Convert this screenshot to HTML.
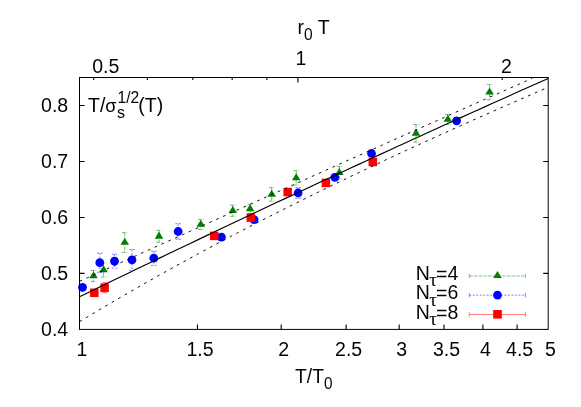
<!DOCTYPE html><html><head><meta charset="utf-8"><title>plot</title><style>html,body{margin:0;padding:0;background:#fff;width:581px;height:407px;overflow:hidden}svg{display:block}text{font-family:"Liberation Sans",sans-serif;fill:#000}.tx{opacity:0.99}</style></head><body>
<svg width="581" height="407" viewBox="0 0 581 407">
<rect width="581" height="407" fill="#fff"/>
<g stroke="#3a9c3a" stroke-width="0.7" fill="none" stroke-dasharray="3.5 1.2"><path d="M93.50,270.50 V281.50 M90.80,270.50 h5.4 M90.80,281.50 h5.4"/></g>
<g stroke="#3a9c3a" stroke-width="0.7" fill="none" stroke-dasharray="3.5 1.2"><path d="M103.60,263.00 V277.00 M100.90,263.00 h5.4 M100.90,277.00 h5.4"/></g>
<g stroke="#3a9c3a" stroke-width="0.7" fill="none" stroke-dasharray="3.5 1.2"><path d="M124.75,232.65 V252.35 M122.05,232.65 h5.4 M122.05,252.35 h5.4"/></g>
<g stroke="#3a9c3a" stroke-width="0.7" fill="none" stroke-dasharray="3.5 1.2"><path d="M159.00,230.30 V242.30 M156.30,230.30 h5.4 M156.30,242.30 h5.4"/></g>
<g stroke="#3a9c3a" stroke-width="0.7" fill="none" stroke-dasharray="3.5 1.2"><path d="M200.80,219.50 V229.50 M198.10,219.50 h5.4 M198.10,229.50 h5.4"/></g>
<g stroke="#3a9c3a" stroke-width="0.7" fill="none" stroke-dasharray="3.5 1.2"><path d="M232.80,205.10 V216.30 M230.10,205.10 h5.4 M230.10,216.30 h5.4"/></g>
<g stroke="#3a9c3a" stroke-width="0.7" fill="none" stroke-dasharray="3.5 1.2"><path d="M250.10,204.30 V213.30 M247.40,204.30 h5.4 M247.40,213.30 h5.4"/></g>
<g stroke="#3a9c3a" stroke-width="0.7" fill="none" stroke-dasharray="3.5 1.2"><path d="M271.70,187.60 V201.20 M269.00,187.60 h5.4 M269.00,201.20 h5.4"/></g>
<g stroke="#3a9c3a" stroke-width="0.7" fill="none" stroke-dasharray="3.5 1.2"><path d="M296.20,170.70 V185.10 M293.50,170.70 h5.4 M293.50,185.10 h5.4"/></g>
<g stroke="#3a9c3a" stroke-width="0.7" fill="none" stroke-dasharray="3.5 1.2"><path d="M339.30,166.40 V179.00 M336.60,166.40 h5.4 M336.60,179.00 h5.4"/></g>
<g stroke="#3a9c3a" stroke-width="0.7" fill="none" stroke-dasharray="3.5 1.2"><path d="M416.00,124.50 V142.10 M413.30,124.50 h5.4 M413.30,142.10 h5.4"/></g>
<g stroke="#3a9c3a" stroke-width="0.7" fill="none" stroke-dasharray="3.5 1.2"><path d="M447.80,114.50 V124.50 M445.10,114.50 h5.4 M445.10,124.50 h5.4"/></g>
<g stroke="#3a9c3a" stroke-width="0.7" fill="none" stroke-dasharray="3.5 1.2"><path d="M489.60,84.40 V99.80 M486.90,84.40 h5.4 M486.90,99.80 h5.4"/></g>
<path d="M93.50,271.30 L89.20,278.35 L97.80,278.35 Z" fill="#008000"/>
<path d="M103.60,265.30 L99.30,272.35 L107.90,272.35 Z" fill="#008000"/>
<path d="M124.75,237.80 L120.45,244.85 L129.05,244.85 Z" fill="#008000"/>
<path d="M159.00,231.60 L154.70,238.65 L163.30,238.65 Z" fill="#008000"/>
<path d="M200.80,219.80 L196.50,226.85 L205.10,226.85 Z" fill="#008000"/>
<path d="M232.80,206.00 L228.50,213.05 L237.10,213.05 Z" fill="#008000"/>
<path d="M250.10,204.10 L245.80,211.15 L254.40,211.15 Z" fill="#008000"/>
<path d="M271.70,189.70 L267.40,196.75 L276.00,196.75 Z" fill="#008000"/>
<path d="M296.20,173.20 L291.90,180.25 L300.50,180.25 Z" fill="#008000"/>
<path d="M339.30,168.00 L335.00,175.05 L343.60,175.05 Z" fill="#008000"/>
<path d="M416.00,128.60 L411.70,135.65 L420.30,135.65 Z" fill="#008000"/>
<path d="M447.80,114.80 L443.50,121.85 L452.10,121.85 Z" fill="#008000"/>
<path d="M489.60,87.40 L485.30,94.45 L493.90,94.45 Z" fill="#008000"/>

<g stroke="#3c3cff" stroke-width="0.7" fill="none" stroke-dasharray="2 1.5"><path d="M99.80,253.10 V272.30 M97.10,253.10 h5.4 M97.10,272.30 h5.4"/></g>
<g stroke="#3c3cff" stroke-width="0.7" fill="none" stroke-dasharray="2 1.5"><path d="M114.50,254.20 V268.20 M111.80,254.20 h5.4 M111.80,268.20 h5.4"/></g>
<g stroke="#3c3cff" stroke-width="0.7" fill="none" stroke-dasharray="2 1.5"><path d="M132.00,249.50 V270.30 M129.30,249.50 h5.4 M129.30,270.30 h5.4"/></g>
<g stroke="#3c3cff" stroke-width="0.7" fill="none" stroke-dasharray="2 1.5"><path d="M153.80,251.10 V265.30 M151.10,251.10 h5.4 M151.10,265.30 h5.4"/></g>
<g stroke="#3c3cff" stroke-width="0.7" fill="none" stroke-dasharray="2 1.5"><path d="M178.20,223.70 V239.30 M175.50,223.70 h5.4 M175.50,239.30 h5.4"/></g>
<g stroke="#3c3cff" stroke-width="0.7" fill="none" stroke-dasharray="2 1.5"><path d="M221.40,234.10 V240.10 M218.70,234.10 h5.4 M218.70,240.10 h5.4"/></g>
<g stroke="#3c3cff" stroke-width="0.7" fill="none" stroke-dasharray="2 1.5"><path d="M254.00,216.60 V222.60 M251.30,216.60 h5.4 M251.30,222.60 h5.4"/></g>
<g stroke="#3c3cff" stroke-width="0.7" fill="none" stroke-dasharray="2 1.5"><path d="M298.10,187.70 V198.30 M295.40,187.70 h5.4 M295.40,198.30 h5.4"/></g>
<g stroke="#3c3cff" stroke-width="0.7" fill="none" stroke-dasharray="2 1.5"><path d="M334.80,174.30 V180.30 M332.10,174.30 h5.4 M332.10,180.30 h5.4"/></g>
<g stroke="#3c3cff" stroke-width="0.7" fill="none" stroke-dasharray="2 1.5"><path d="M371.55,150.50 V156.50 M368.85,150.50 h5.4 M368.85,156.50 h5.4"/></g>
<g stroke="#3c3cff" stroke-width="0.7" fill="none" stroke-dasharray="2 1.5"><path d="M456.60,117.80 V123.80 M453.90,117.80 h5.4 M453.90,123.80 h5.4"/></g>
<circle cx="82.50" cy="287.40" r="4.4" fill="#0000ff"/>
<circle cx="99.80" cy="262.70" r="4.4" fill="#0000ff"/>
<circle cx="114.50" cy="261.20" r="4.4" fill="#0000ff"/>
<circle cx="132.00" cy="259.90" r="4.4" fill="#0000ff"/>
<circle cx="153.80" cy="258.20" r="4.4" fill="#0000ff"/>
<circle cx="178.20" cy="231.50" r="4.4" fill="#0000ff"/>
<circle cx="221.40" cy="237.10" r="4.4" fill="#0000ff"/>
<circle cx="254.00" cy="219.60" r="4.4" fill="#0000ff"/>
<circle cx="298.10" cy="193.00" r="4.4" fill="#0000ff"/>
<circle cx="334.80" cy="177.30" r="4.4" fill="#0000ff"/>
<circle cx="371.55" cy="153.50" r="4.4" fill="#0000ff"/>
<circle cx="456.60" cy="120.80" r="4.4" fill="#0000ff"/>
<g stroke="#ff3030" stroke-width="0.7" fill="none" stroke-dasharray=""><path d="M94.30,289.80 V295.80 M91.60,289.80 h5.4 M91.60,295.80 h5.4"/></g>
<g stroke="#ff3030" stroke-width="0.7" fill="none" stroke-dasharray=""><path d="M104.60,282.70 V292.70 M101.90,282.70 h5.4 M101.90,292.70 h5.4"/></g>
<g stroke="#ff3030" stroke-width="0.7" fill="none" stroke-dasharray=""><path d="M214.20,232.90 V238.90 M211.50,232.90 h5.4 M211.50,238.90 h5.4"/></g>
<g stroke="#ff3030" stroke-width="0.7" fill="none" stroke-dasharray=""><path d="M250.80,214.60 V220.60 M248.10,214.60 h5.4 M248.10,220.60 h5.4"/></g>
<g stroke="#ff3030" stroke-width="0.7" fill="none" stroke-dasharray=""><path d="M287.70,189.10 V195.10 M285.00,189.10 h5.4 M285.00,195.10 h5.4"/></g>
<g stroke="#ff3030" stroke-width="0.7" fill="none" stroke-dasharray=""><path d="M325.90,179.90 V185.90 M323.20,179.90 h5.4 M323.20,185.90 h5.4"/></g>
<g stroke="#ff3030" stroke-width="0.7" fill="none" stroke-dasharray=""><path d="M372.80,159.00 V165.00 M370.10,159.00 h5.4 M370.10,165.00 h5.4"/></g>
<rect x="90.05" y="288.55" width="8.5" height="8.5" fill="#ff0000"/>
<rect x="100.35" y="283.45" width="8.5" height="8.5" fill="#ff0000"/>
<rect x="209.95" y="231.65" width="8.5" height="8.5" fill="#ff0000"/>
<rect x="246.55" y="213.35" width="8.5" height="8.5" fill="#ff0000"/>
<rect x="283.45" y="187.85" width="8.5" height="8.5" fill="#ff0000"/>
<rect x="321.65" y="178.65" width="8.5" height="8.5" fill="#ff0000"/>
<rect x="368.55" y="157.75" width="8.5" height="8.5" fill="#ff0000"/>
<path d="M79.50,281.32 L87.44,277.72 L95.39,274.12 L103.33,270.51 L111.28,266.91 L119.22,263.32 L127.16,259.72 L135.11,256.12 L143.05,252.53 L151.00,248.94 L158.94,245.35 L166.88,241.76 L174.83,238.17 L182.77,234.58 L190.72,231.00 L198.66,227.42 L206.61,223.83 L214.55,220.25 L222.49,216.68 L230.44,213.10 L238.38,209.52 L246.33,205.95 L254.27,202.38 L262.21,198.80 L270.16,195.23 L278.10,191.67 L286.05,188.10 L293.99,184.53 L301.93,180.97 L309.88,177.41 L317.82,173.85 L325.77,170.29 L333.71,166.73 L341.65,163.17 L349.60,159.62 L357.54,156.07 L365.49,152.52 L373.43,148.97 L381.37,145.42 L389.32,141.87 L397.26,138.32 L405.21,134.78 L413.15,131.24 L421.09,127.70 L429.04,124.16 L436.98,120.62 L444.93,117.08 L452.87,113.55 L460.82,110.01 L468.76,106.48 L476.70,102.95 L484.65,99.42 L492.59,95.89 L500.54,92.37 L508.48,88.84 L516.42,85.32 L524.37,81.80 L532.31,78.28" fill="none" stroke="#000" stroke-width="0.95" stroke-dasharray="2.7 4.8"/>
<path d="M79.50,321.70 L87.44,316.91 L95.39,312.15 L103.33,307.43 L111.28,302.75 L119.22,298.10 L127.16,293.49 L135.11,288.91 L143.05,284.37 L151.00,279.87 L158.94,275.40 L166.88,270.96 L174.83,266.56 L182.77,262.19 L190.72,257.85 L198.66,253.54 L206.61,249.26 L214.55,245.02 L222.49,240.80 L230.44,236.61 L238.38,232.45 L246.33,228.32 L254.27,224.22 L262.21,220.15 L270.16,216.10 L278.10,212.08 L286.05,208.08 L293.99,204.11 L301.93,200.16 L309.88,196.24 L317.82,192.34 L325.77,188.47 L333.71,184.62 L341.65,180.79 L349.60,176.98 L357.54,173.19 L365.49,169.42 L373.43,165.67 L381.37,161.95 L389.32,158.24 L397.26,154.55 L405.21,150.88 L413.15,147.22 L421.09,143.58 L429.04,139.96 L436.98,136.35 L444.93,132.76 L452.87,129.19 L460.82,125.63 L468.76,122.08 L476.70,118.54 L484.65,115.02 L492.59,111.51 L500.54,108.01 L508.48,104.52 L516.42,101.05 L524.37,97.58 L532.31,94.12 L540.26,90.68 L548.20,87.24" fill="none" stroke="#000" stroke-width="0.95" stroke-dasharray="2.7 4.8"/>
<path d="M79.50,296.76 L87.44,292.90 L95.39,289.04 L103.33,285.19 L111.28,281.34 L119.22,277.50 L127.16,273.66 L135.11,269.83 L143.05,266.00 L151.00,262.19 L158.94,258.37 L166.88,254.56 L174.83,250.76 L182.77,246.96 L190.72,243.17 L198.66,239.39 L206.61,235.61 L214.55,231.83 L222.49,228.06 L230.44,224.30 L238.38,220.54 L246.33,216.79 L254.27,213.05 L262.21,209.31 L270.16,205.57 L278.10,201.84 L286.05,198.12 L293.99,194.40 L301.93,190.69 L309.88,186.98 L317.82,183.28 L325.77,179.59 L333.71,175.90 L341.65,172.21 L349.60,168.53 L357.54,164.86 L365.49,161.20 L373.43,157.53 L381.37,153.88 L389.32,150.23 L397.26,146.58 L405.21,142.95 L413.15,139.31 L421.09,135.69 L429.04,132.06 L436.98,128.45 L444.93,124.84 L452.87,121.23 L460.82,117.63 L468.76,114.04 L476.70,110.45 L484.65,106.87 L492.59,103.29 L500.54,99.72 L508.48,96.16 L516.42,92.60 L524.37,89.04 L532.31,85.50 L540.26,81.95 L548.20,78.42" fill="none" stroke="#000" stroke-width="1.15"/>
<rect x="79.50" y="77.50" width="468.70" height="251.90" fill="none" stroke="#000" stroke-width="1.0"/>
<path d="M197.48,329.40 v-5.0 M281.19,329.40 v-5.0 M346.12,329.40 v-5.0 M399.17,329.40 v-5.0 M444.03,329.40 v-5.0 M482.88,329.40 v-5.0 M517.15,329.40 v-5.0 M93.65,77.50 v2.6 M147.38,77.50 v2.6 M192.80,77.50 v2.6 M232.15,77.50 v2.6 M266.85,77.50 v2.6 M502.15,77.50 v2.6 M297.90,77.50 v5.0 M79.50,273.42 h5.0 M548.20,273.42 h-5.0 M79.50,217.44 h5.0 M548.20,217.44 h-5.0 M79.50,161.47 h5.0 M548.20,161.47 h-5.0 M79.50,105.49 h5.0 M548.20,105.49 h-5.0" stroke="#000" stroke-width="1.1" fill="none"/>
<g class="tx">
<text transform="translate(82.00,355.60) scale(1.000,1)" font-size="19.50" text-anchor="middle" >1</text>
<text transform="translate(199.98,355.60) scale(1.000,1)" font-size="19.50" text-anchor="middle" >1.5</text>
<text transform="translate(283.69,355.60) scale(1.000,1)" font-size="19.50" text-anchor="middle" >2</text>
<text transform="translate(348.62,355.60) scale(1.000,1)" font-size="19.50" text-anchor="middle" >2.5</text>
<text transform="translate(401.67,355.60) scale(1.000,1)" font-size="19.50" text-anchor="middle" >3</text>
<text transform="translate(446.53,355.60) scale(1.000,1)" font-size="19.50" text-anchor="middle" >3.5</text>
<text transform="translate(485.38,355.60) scale(1.000,1)" font-size="19.50" text-anchor="middle" >4</text>
<text transform="translate(519.65,355.60) scale(1.000,1)" font-size="19.50" text-anchor="middle" >4.5</text>
<text transform="translate(550.31,355.60) scale(1.000,1)" font-size="19.50" text-anchor="middle" >5</text>
<text transform="translate(68.20,335.70) scale(1.000,1)" font-size="19.50" text-anchor="end" >0.4</text>
<text transform="translate(68.20,279.72) scale(1.000,1)" font-size="19.50" text-anchor="end" >0.5</text>
<text transform="translate(68.20,223.74) scale(1.000,1)" font-size="19.50" text-anchor="end" >0.6</text>
<text transform="translate(68.20,167.77) scale(1.000,1)" font-size="19.50" text-anchor="end" >0.7</text>
<text transform="translate(68.20,111.79) scale(1.000,1)" font-size="19.50" text-anchor="end" >0.8</text>
<text transform="translate(105.80,72.70) scale(1.000,1)" font-size="19.50" text-anchor="middle" >0.5</text>
<text transform="translate(301.00,64.80) scale(1.000,1)" font-size="19.50" text-anchor="middle" >1</text>
<text transform="translate(506.30,72.70) scale(1.000,1)" font-size="19.50" text-anchor="middle" >2</text>
<text transform="translate(297.50,33.90) scale(1.000,1)" font-size="19.50"><tspan dy="0.00" font-size="19.50">r</tspan><tspan dy="5.85" font-size="15.60">0</tspan><tspan dy="-5.85" font-size="19.50"> T</tspan></text>
<text transform="translate(295.10,382.80) scale(0.985,1)" font-size="19.50"><tspan dy="0.00" font-size="19.50">T/T</tspan><tspan dy="6.05" font-size="15.60">0</tspan></text>
<text transform="translate(88.00,111.90) scale(1.000,1)" font-size="19.50"><tspan dy="0.00" font-size="19.50">T/</tspan><tspan dy="0.00" font-size="18.14">σ</tspan></text>
<text transform="translate(117.10,118.00) scale(1.000,1)" font-size="19.50"><tspan dy="0.00" font-size="15.99">s</tspan></text>
<text transform="translate(117.60,102.50) scale(1.000,1)" font-size="19.50"><tspan dy="0.00" font-size="15.60">1/2</tspan></text>
<text transform="translate(138.30,111.90) scale(1.000,1)" font-size="19.50"><tspan dy="0.00" font-size="19.50">(T)</tspan></text>
<text transform="translate(415.80,279.80) scale(1.000,1)" font-size="19.50"><tspan dy="0.00" font-size="19.50">N</tspan></text>
<text transform="translate(429.30,286.30) scale(1.000,1)" font-size="19.50"><tspan dy="0.00" font-size="19.11" font-family="Liberation Serif">τ</tspan></text>
<text transform="translate(436.00,279.80) scale(1.000,1)" font-size="19.50"><tspan dy="0.90" font-size="19.50">=</tspan><tspan dy="-0.90" font-size="19.50">4</tspan></text>
<text transform="translate(415.80,299.30) scale(1.000,1)" font-size="19.50"><tspan dy="0.00" font-size="19.50">N</tspan></text>
<text transform="translate(429.30,305.80) scale(1.000,1)" font-size="19.50"><tspan dy="0.00" font-size="19.11" font-family="Liberation Serif">τ</tspan></text>
<text transform="translate(436.00,299.30) scale(1.000,1)" font-size="19.50"><tspan dy="0.90" font-size="19.50">=</tspan><tspan dy="-0.90" font-size="19.50">6</tspan></text>
<text transform="translate(415.80,318.70) scale(1.000,1)" font-size="19.50"><tspan dy="0.00" font-size="19.50">N</tspan></text>
<text transform="translate(429.30,325.20) scale(1.000,1)" font-size="19.50"><tspan dy="0.00" font-size="19.11" font-family="Liberation Serif">τ</tspan></text>
<text transform="translate(436.00,318.70) scale(1.000,1)" font-size="19.50"><tspan dy="0.90" font-size="19.50">=</tspan><tspan dy="-0.90" font-size="19.50">8</tspan></text>
</g>
<g stroke="#4fa84f" stroke-width="0.7" fill="none"><path d="M469.30,276.0 H525.40" stroke-dasharray="3.5 1.2"/><path d="M469.30,273.5 v4.4 M525.40,273.5 v4.4"/></g>
<path d="M497.50,271.00 L493.20,278.05 L501.80,278.05 Z" fill="#008000"/>
<g stroke="#4d4dff" stroke-width="0.7" fill="none"><path d="M469.30,295.2 H525.40" stroke-dasharray="2 1.5"/><path d="M469.30,293.0 v4.4 M525.40,293.0 v4.4"/></g>
<circle cx="497.50" cy="295.2" r="4.4" fill="#0000ff"/>
<g stroke="#ff4545" stroke-width="0.7" fill="none"><path d="M469.30,314.5 H525.40"/><path d="M469.30,312.3 v4.4 M525.40,312.3 v4.4"/></g>
<rect x="493.20" y="310.00" width="8.6" height="8.6" fill="#ff0000"/>
</svg></body></html>
